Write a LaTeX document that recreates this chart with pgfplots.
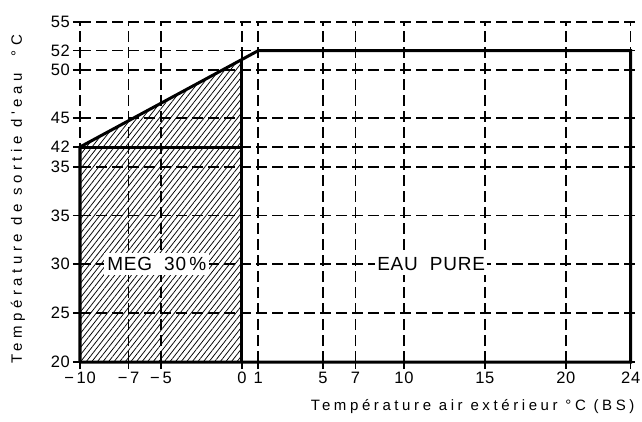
\documentclass[border=0pt]{standalone}
\usepackage{fontspec}
\setmainfont{Liberation Sans}
\newfontfamily\spaced[LetterSpace=24]{Liberation Sans}
\newfontfamily\spacedy[LetterSpace=30]{Liberation Sans}
\newfontfamily\tickfont[LetterSpace=4]{Liberation Sans}
\newfontfamily\boxfont[LetterSpace=4]{Liberation Sans}
\usepackage{pgfplots}
\pgfplotsset{compat=1.18}
\usetikzlibrary{patterns.meta}
\begin{document}
\begin{tikzpicture}
\begin{axis}[
  scale only axis,
  width=559.6bp, height=340bp,
  xmin=-10, xmax=24.55, ymin=0, ymax=340,
  axis line style={draw=none},
  tick pos=left, tick align=outside,
  major tick length=7bp,
  tick style={black, line width=1.4bp},
  grid=major,
  major grid style={black, line width=1.4bp, dash pattern=on 11bp off 5bp},
  xtick={-10,-7,-5,0,1,5,7,10,15,20,24},
  xticklabels={−\,10,−\,7,−\,5,0,1,5,7,10,15,20,24},
  ytick={0,49,98,146.3,195,215,244,292,311.3,340},
  yticklabels={20,25,30,35,35,42,45,50,52,55},
  ticklabel style={font=\fontsize{16.5bp}{18bp}\tickfont, inner sep=2bp},
  xticklabel style={yshift=-1bp},
  yticklabel style={xshift=-1bp},
  clip=false,
]
% hatched MEG region
\addplot[draw=none, pattern={Lines[angle=52,distance=4.4bp,line width=0.75bp]}]
  coordinates {(-10,0) (-10,215) (0,302.5) (0,0)} -- cycle;
% outline
\addplot[black, line width=3bp, line join=miter]
  coordinates {(-10,0) (-10,215) (1,311.3) (24,311.3) (24,0) (-10,0)};
\addplot[black, line width=3bp]
  coordinates {(-10,215) (0,215)};
\addplot[black, line width=3bp]
  coordinates {(0,0) (0,302.5)};
% labels
\node[fill=white, inner xsep=3bp, inner ysep=4bp, font=\fontsize{19bp}{21bp}\boxfont] at (axis cs:-5.26,98) {MEG\ \ 30\,\%};
\node[fill=white, inner xsep=2bp, inner ysep=4bp, font=\fontsize{19bp}{21bp}\boxfont] at (axis cs:11.68,98) {EAU\ \ PURE};
\node[anchor=east, font=\fontsize{15bp}{17bp}\spaced] at (axis cs:24.45,-45) {Température air extérieur °C (BS)};
\coordinate (O) at (axis cs:-10,0);
\end{axis}
\node[rotate=90, font=\fontsize{15bp}{17bp}\spacedy] at ([shift={(-62bp,163bp)}]O) {Température de sortie d'eau\ \ °C};
\pgfresetboundingbox
\path[use as bounding box] ([shift={(-80bp,-60bp)}]O) rectangle ([shift={(562bp,362bp)}]O);
\end{tikzpicture}
\end{document}
